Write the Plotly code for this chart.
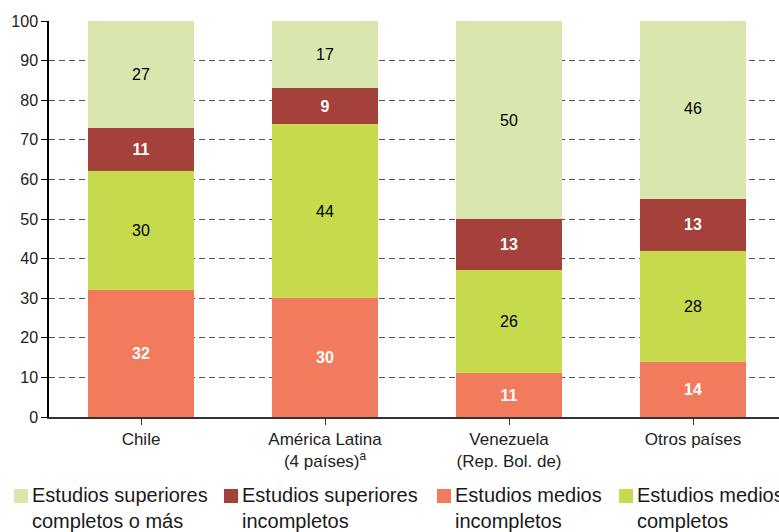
import plotly.graph_objects as go

# Categories on the x axis (HTML line breaks / superscript for the tick labels)
categories = ["Chile", "América Latina<br>(4 países)<sup>a</sup>",
              "Venezuela<br>(Rep. Bol. de)", "Otros países"]

# Shares (%) per education level, stacked bottom to top
medios_incompletos = [32, 30, 11, 14]
medios_completos = [30, 44, 26, 28]
superiores_incompletos = [11, 9, 13, 13]
superiores_completos = [27, 17, 50, 46]

y_ticks = list(range(0, 101, 10))

series = [
    ("Estudios medios<br>incompletos", medios_incompletos, "#f37b5d", "white", True),
    ("Estudios medios<br>completos", medios_completos, "#c6da4c", "black", False),
    ("Estudios superiores<br>incompletos", superiores_incompletos, "#a3413a", "white", True),
    ("Estudios superiores<br>completos o más", superiores_completos, "#d9e7af", "black", False),
]

FONT = "Liberation Sans, Arial"

fig = go.Figure()
for name, vals, color, tcolor, bold in series:
    fig.add_trace(go.Bar(
        x=list(range(len(categories))), y=vals, name=name,
        marker=dict(color=color, line=dict(width=0)),
        text=[str(v) for v in vals],
        texttemplate=("<b>%{text}</b>" if bold else "%{text}"),
        textposition="inside", insidetextanchor="middle", textangle=0,
        constraintext="none",
        textfont=dict(color=tcolor, size=16, family=FONT),
        showlegend=False, hoverinfo="skip",
    ))

# Legend drawn as coloured squares with two-line captions
legend_order = [3, 2, 0, 1]
legend_px = [14, 224, 437, 619]
L, W = 49, 730  # plot-area left edge and width in pixels
for idx, px in zip(legend_order, legend_px):
    name, _, color, _, _ = series[idx]
    fig.add_shape(type="rect", xref="paper", yref="paper",
                  x0=(px - L) / W, x1=(px + 14 - L) / W,
                  y0=(417 - 503) / 396, y1=(417 - 489) / 396,
                  fillcolor=color, line=dict(width=0))
    fig.add_annotation(xref="paper", yref="paper",
                       x=(px + 16 - L) / W, y=(417 - 482) / 396,
                       xanchor="left", yanchor="top", align="left",
                       text=name, showarrow=False,
                       font=dict(size=20, color="#1a1a1a", family=FONT))

fig.update_layout(
    barmode="stack", bargap=0.42,
    width=779, height=532,
    margin=dict(l=49, r=0, t=21, b=115),
    plot_bgcolor="white", paper_bgcolor="white",
    font=dict(family=FONT, size=16, color="#222"),
)
fig.update_xaxes(
    tickmode="array", tickvals=list(range(len(categories))), ticktext=categories,
    range=[-0.5, 3.467], showline=True, linecolor="#333", linewidth=1.5,
    ticks="outside", tickson="boundaries", ticklen=6, tickcolor="#333",
    showgrid=False, tickfont=dict(size=17, color="#222"),
)
fig.update_yaxes(
    range=[0, 100], tickvals=y_ticks, showline=True, linecolor="black",
    linewidth=1.5, ticks="outside", ticklen=6, tickcolor="black",
    showgrid=True, gridcolor="#555", griddash="6px,4px", gridwidth=1,
    zeroline=False, tickfont=dict(size=16, color="#222"),
)

fig.write_html("out.html")
